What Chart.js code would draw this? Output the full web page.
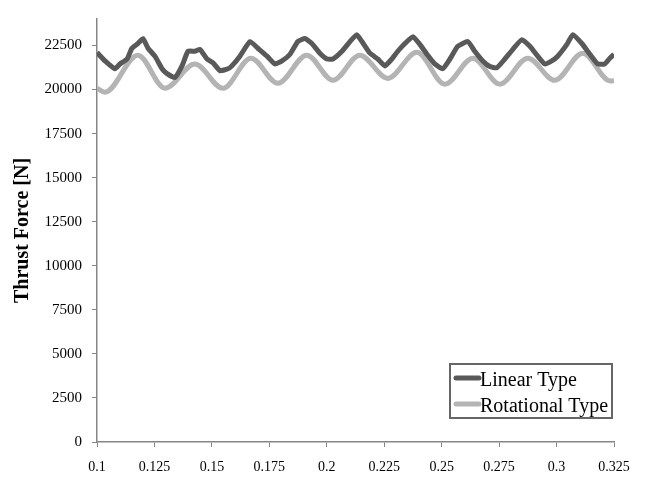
<!DOCTYPE html>
<html>
<head>
<meta charset="utf-8">
<script src="https://cdn.jsdelivr.net/npm/chart.js@4/dist/chart.umd.min.js"></script>
<style>
  body { margin: 0; background: #fff; }
  #wrap { width: 648px; height: 477px; position: relative; }
</style>
</head>
<body>
<div id="wrap"><canvas id="chartThrust"></canvas></div>
<script>
// tick labels
const xTicks = [0.1, 0.125, 0.15, 0.175, 0.2, 0.225, 0.25, 0.275, 0.3, 0.325];
const yTicks = [0, 2500, 5000, 7500, 10000, 12500, 15000, 17500, 20000, 22500];

// Linear Type (time [s], thrust [N])
const linearT = [0.1, 0.1035, 0.1078, 0.1100, 0.1131, 0.1152, 0.1178, 0.1200, 0.1222, 0.1252,
  0.1283, 0.1305, 0.1339, 0.1370, 0.1396, 0.1426, 0.1448, 0.1479, 0.1505, 0.1535,
  0.1570, 0.1587, 0.1622, 0.1666, 0.1700, 0.1740, 0.1774, 0.1805, 0.1840, 0.1874,
  0.1905, 0.1935, 0.1970, 0.2001, 0.2027, 0.2066, 0.2101, 0.2131, 0.2153, 0.2188,
  0.2222, 0.2253, 0.2283, 0.2309, 0.2340, 0.2375, 0.2405, 0.2436, 0.2470, 0.2505,
  0.2536, 0.2570, 0.2614, 0.2644, 0.2679, 0.2710, 0.2740, 0.2775, 0.2810, 0.2849,
  0.2884, 0.2918, 0.2949, 0.2979, 0.3005, 0.3045, 0.3071, 0.3110, 0.3145, 0.3179,
  0.3210, 0.3232, 0.3250];
const linearF = [22100, 21620, 21180, 21450, 21730, 22340, 22610, 22890, 22340, 21890,
  21180, 20900, 20680, 21340, 22170, 22170, 22280, 21730, 21510, 21070,
  21180, 21340, 21890, 22720, 22340, 21890, 21450, 21620, 22000, 22720,
  22890, 22610, 22060, 21730, 21730, 22170, 22720, 23110, 22720, 22060,
  21730, 21340, 21730, 22170, 22610, 23000, 22560, 22000, 21450, 21180,
  21730, 22450, 22720, 22170, 21620, 21300, 21230, 21730, 22280, 22830,
  22450, 21890, 21450, 21620, 21890, 22560, 23110, 22610, 22000, 21450,
  21450, 21780, 22000];

// Rotational Type
const rotT = [0.1, 0.1035, 0.1178, 0.1296, 0.1426, 0.1548, 0.1670, 0.1787, 0.1913, 0.2027,
  0.2144, 0.2266, 0.2392, 0.2514, 0.2636, 0.2753, 0.2875, 0.2992, 0.3114, 0.3234, 0.3250];
const rotF = [20070, 19850, 21950, 20070, 21450, 20070, 21780, 20350, 21950, 20520,
  21950, 20630, 22110, 20300, 21780, 20300, 21780, 20520, 22060, 20480, 20500];

const serif = "'Liberation Serif', 'Times New Roman', serif";

// legend box drawn inside the plot, lower right
const boxLegend = {
  id: 'boxLegend',
  afterDraw(chart) {
    const ctx = chart.ctx;
    const x0 = 450, y0 = 364, w = 162, h = 54;
    ctx.save();
    ctx.fillStyle = '#fff';
    ctx.fillRect(x0, y0, w, h);
    ctx.strokeStyle = '#666';
    ctx.lineWidth = 2;
    ctx.strokeRect(x0, y0, w, h);
    ctx.font = '20px ' + serif;
    ctx.textBaseline = 'alphabetic';
    chart.data.datasets.forEach((ds, i) => {
      const ly = y0 + 14 + i * 26;
      ctx.strokeStyle = ds.borderColor;
      ctx.lineWidth = 5;
      ctx.lineCap = 'round';
      ctx.beginPath();
      ctx.moveTo(x0 + 6, ly);
      ctx.lineTo(x0 + 29, ly);
      ctx.stroke();
      ctx.fillStyle = '#000';
      ctx.fillText(ds.label, x0 + 30, ly + 8);
    });
    ctx.restore();
  }
};

const toPts = (t, f) => t.map((v, i) => ({ x: v, y: f[i] }));

new Chart(document.getElementById('chartThrust'), {
  type: 'line',
  data: {
    datasets: [{
      label: 'Linear Type',
      data: toPts(linearT, linearF),
      borderColor: '#595959',
      borderWidth: 5,
      pointRadius: 0,
      tension: 0.15
    }, {
      label: 'Rotational Type',
      data: toPts(rotT, rotF),
      borderColor: '#b4b4b4',
      borderWidth: 5,
      pointRadius: 0,
      cubicInterpolationMode: 'monotone'
    }]
  },
  options: {
    responsive: true,
    maintainAspectRatio: false,
    animation: false,
    layout: { padding: { top: 7, right: 34, left: 0, bottom: 0 } },
    plugins: { legend: { display: false }, tooltip: { enabled: false } },
    scales: {
      x: {
        type: 'linear',
        min: 0.1,
        max: 0.325,
        afterFit: s => { s.height = 35; },
        afterBuildTicks: s => { s.ticks = xTicks.map(v => ({ value: v })); },
        ticks: {
          padding: 12,
          color: '#000',
          maxRotation: 0,
          autoSkip: false,
          font: { family: serif, size: 14 },
          callback: v => String(+v.toFixed(3))
        },
        grid: { drawOnChartArea: false, drawTicks: true, tickLength: 5, color: '#868686' },
        border: { color: '#868686', width: 1.5 }
      },
      y: {
        min: 0,
        max: 24000,
        afterFit: s => { s.width = 97; },
        afterBuildTicks: s => { s.ticks = yTicks.map(v => ({ value: v })); },
        ticks: {
          padding: 10,
          color: '#000',
          autoSkip: false,
          font: { family: serif, size: 15 },
          callback: v => String(v)
        },
        grid: { drawOnChartArea: false, drawTicks: true, tickLength: 5, color: '#868686' },
        border: { color: '#868686', width: 1.5 },
        title: {
          display: true,
          text: 'Thrust Force [N]',
          color: '#000',
          padding: { top: 11, bottom: 0 },
          font: { family: serif, size: 20, weight: 'bold' }
        }
      }
    }
  },
  plugins: [boxLegend]
});
</script>
</body>
</html>
